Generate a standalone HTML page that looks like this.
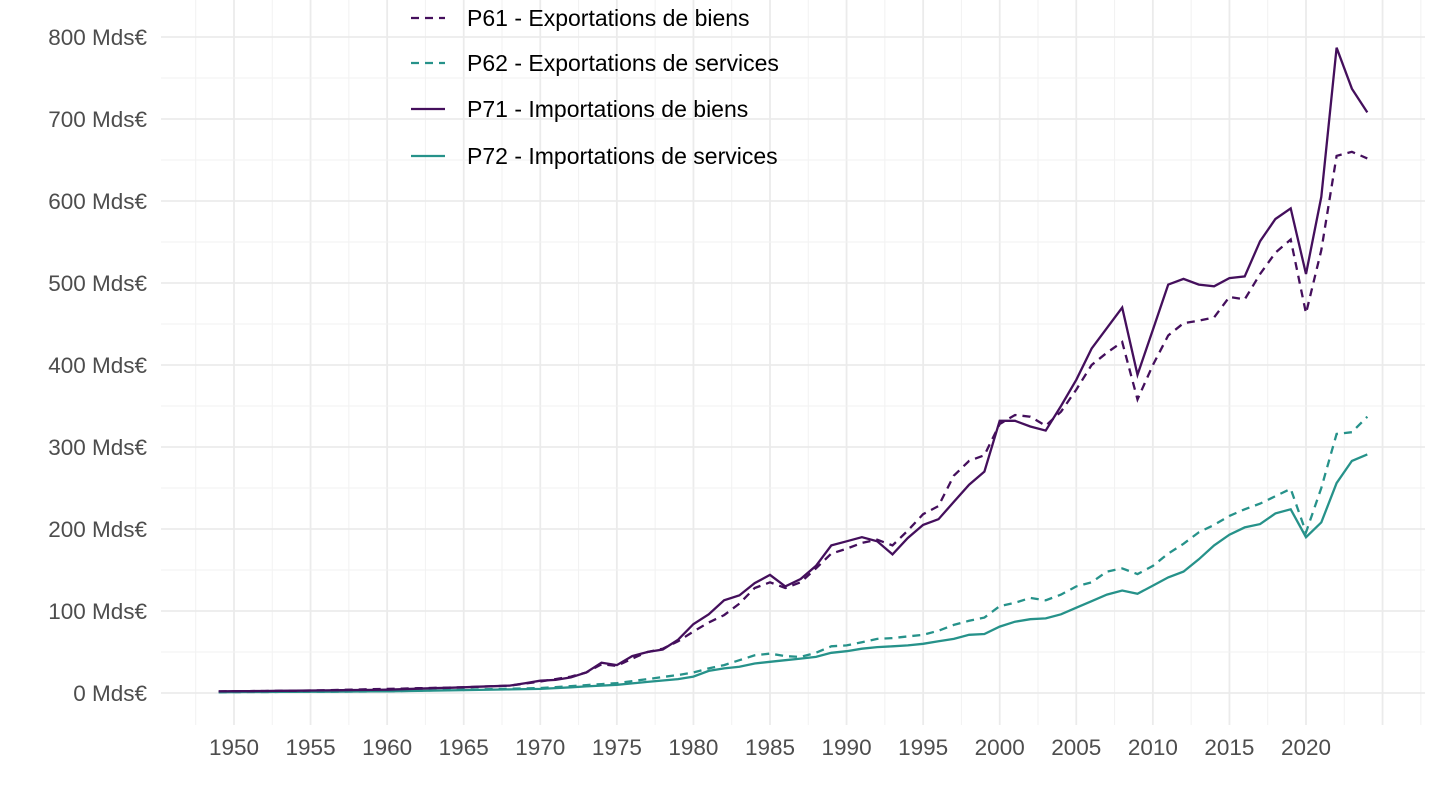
<!DOCTYPE html>
<html><head><meta charset="utf-8"><style>
html,body{margin:0;padding:0;background:#fff;}
svg{display:block;font-family:"Liberation Sans",sans-serif;}
</style></head><body>
<svg id="s" width="1440" height="810" xmlns="http://www.w3.org/2000/svg"></svg>
<script>
const s=document.getElementById('s');
const X=y=>234+(y-1950)*1072/70, Y=v=>693-v*0.82;
let h='';
for(let y=1947.5;y<=2027.5;y+=2.5){const x=X(y);if(x<161||x>1425)continue;const maj=(y%5==0);h+=`<line x1="${x}" y1="0" x2="${x}" y2="725" stroke="${maj?'#ebebeb':'#f2f2f2'}" stroke-width="${maj?1.8:1}"/>`;}
for(let v=-50;v<=850;v+=50){const yy=Y(v);if(yy<0||yy>725)continue;const maj=v%100==0;h+=`<line x1="161" y1="${yy}" x2="1425" y2="${yy}" stroke="${maj?'#ebebeb':'#f2f2f2'}" stroke-width="${maj?1.8:1}"/>`;}
for(let v=0;v<=800;v+=100)h+=`<text x="147" y="${Y(v)+8}" text-anchor="end" font-size="22.5" fill="#4d4d4d">${v} Mds€</text>`;
for(let y=1950;y<=2020;y+=5)h+=`<text x="${X(y)}" y="755" text-anchor="middle" font-size="22.5" fill="#4d4d4d">${y}</text>`;
function interp(a){const ks=Object.keys(a).map(Number).sort((p,q)=>p-q);const out=[];for(let y=1949;y<=2024;y++){let i=ks.findIndex(k=>k>=y);let k1=ks[i];if(k1==y){out.push([y,a[y]]);continue;}let k0=ks[i-1];out.push([y,a[k0]+(a[k1]-a[k0])*(y-k0)/(k1-k0)]);}return out;}
const P71=interp({1949:2,1955:3,1960:4,1965:7,1968:9,1970:15,1971:16,1972:19,1973:25,1974:37,1975:34,1976:45,1977:50,1978:53,1979:65,1980:84,1981:96,1982:113,1983:119,1984:134,1985:144,1986:130,1987:139,1988:155,1989:180,1990:185,1991:190,1992:185,1993:169,1994:189,1995:205,1996:212,1997:233,1998:254,1999:270,2000:332,2001:332,2002:325,2003:320,2004:350,2005:382,2006:420,2007:445,2008:470,2009:388,2010:443,2011:498,2012:505,2013:498,2014:496,2015:506,2016:508,2017:551,2018:578,2019:591,2020:511,2021:605,2022:787,2023:737,2024:708});
const P61=interp({1949:2,1955:3,1960:5,1965:7,1968:9,1970:14,1972:20,1973:25,1974:35,1975:33,1976:42,1977:50,1978:54,1979:63,1980:75,1981:86,1982:95,1983:109,1984:128,1985:135,1986:128,1987:135,1988:152,1989:170,1990:176,1991:183,1992:187,1993:180,1994:198,1995:218,1996:228,1997:265,1998:283,1999:290,2000:328,2001:339,2002:337,2003:326,2004:343,2005:370,2006:400,2007:415,2008:428,2009:358,2010:400,2011:436,2012:451,2013:454,2014:458,2015:483,2016:480,2017:511,2018:537,2019:553,2020:463,2021:540,2022:655,2023:660,2024:652});
const P62=interp({1949:1,1960:2,1970:6,1975:12,1979:22,1980:25,1981:30,1982:34,1983:40,1984:46,1985:48,1986:45,1987:44,1988:49,1989:57,1990:58,1991:62,1992:66,1993:67,1994:69,1995:71,1996:76,1997:83,1998:88,1999:92,2000:106,2001:110,2002:116,2003:113,2004:120,2005:130,2006:135,2007:148,2008:152,2009:145,2010:155,2011:170,2012:182,2013:196,2014:205,2015:216,2016:224,2017:231,2018:240,2019:249,2020:196,2021:250,2022:316,2023:318,2024:337});
const P72=interp({1949:1,1960:2,1970:5,1975:10,1979:17,1980:20,1981:27,1982:30,1983:32,1984:36,1985:38,1986:40,1987:42,1988:44,1989:49,1990:51,1991:54,1992:56,1993:57,1994:58,1995:60,1996:63,1997:66,1998:71,1999:72,2000:81,2001:87,2002:90,2003:91,2004:96,2005:104,2006:112,2007:120,2008:125,2009:121,2010:131,2011:141,2012:148,2013:163,2014:180,2015:193,2016:202,2017:206,2018:219,2019:224,2020:190,2021:208,2022:256,2023:283,2024:291});
const pu='#440f5c',te='#26928a';
function path(d,c,dash){return `<polyline fill="none" stroke="${c}" stroke-width="2.3" ${dash?'stroke-dasharray="8,6"':''} points="${d.map(p=>X(p[0]).toFixed(1)+','+Y(p[1]).toFixed(1)).join(' ')}"/>`;}
h+=path(P62,te,1)+path(P72,te,0)+path(P61,pu,1)+path(P71,pu,0);
const L=[['P61 - Exportations de biens',pu,1,18],['P62 - Exportations de services',te,1,63],['P71 - Importations de biens',pu,0,109],['P72 - Importations de services',te,0,156]];
for(const [t,c,d,y] of L){h+=`<line x1="411" y1="${y}" x2="445" y2="${y}" stroke="${c}" stroke-width="2.3" ${d?'stroke-dasharray="8,6"':''}/><text x="467" y="${y+8}" font-size="23" fill="#000">${t}</text>`;}
s.innerHTML=h;
</script>
</body></html>
